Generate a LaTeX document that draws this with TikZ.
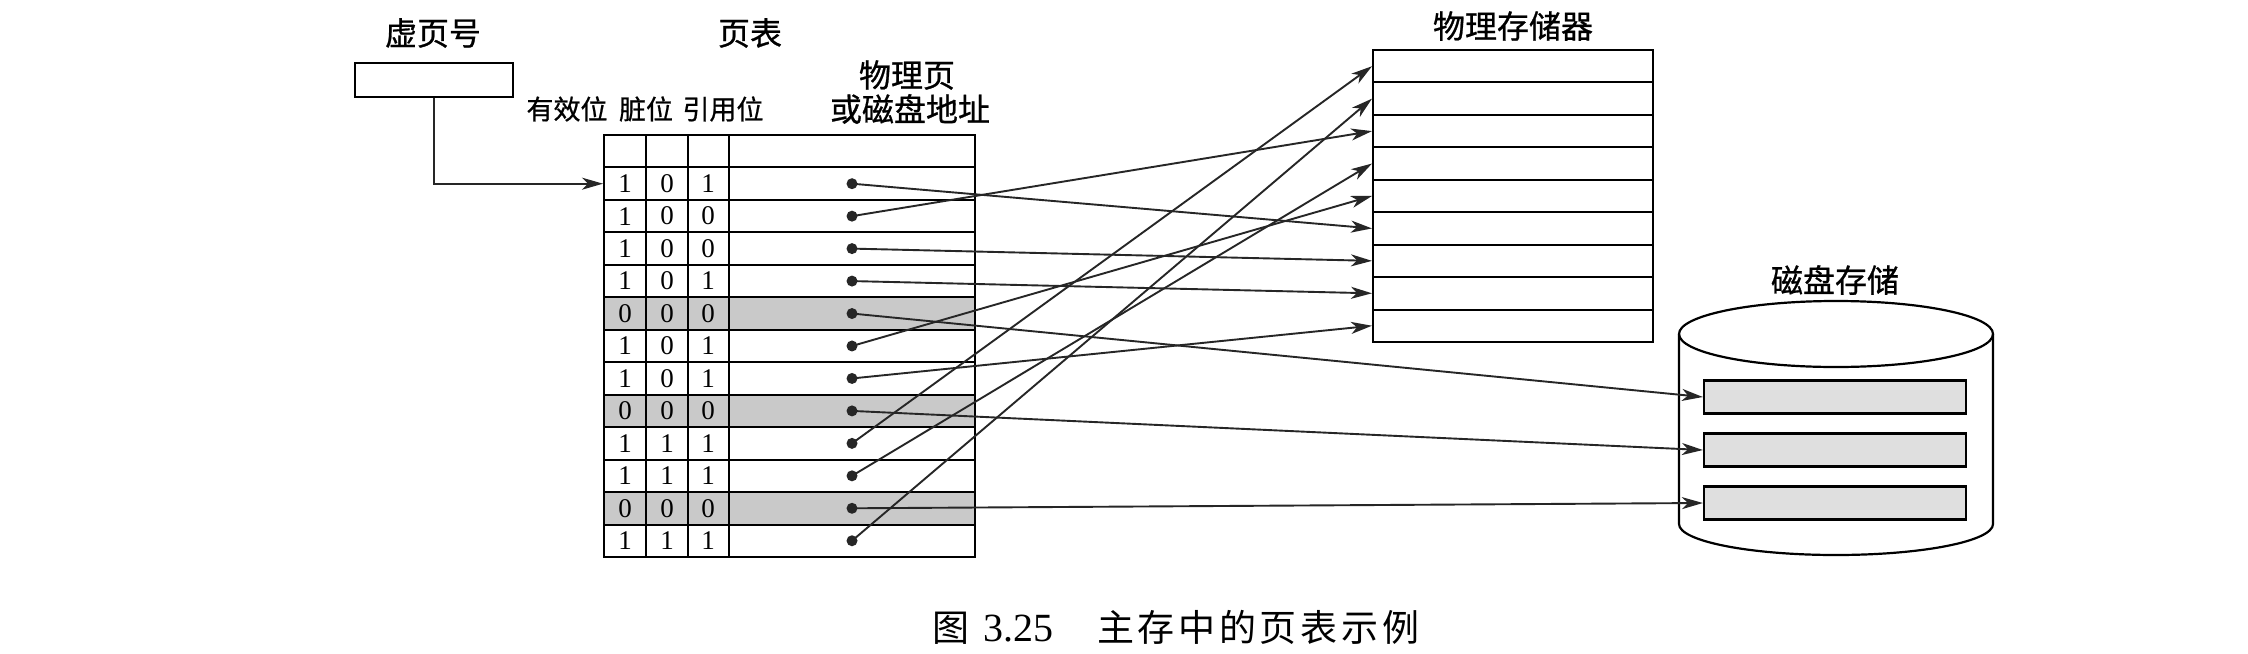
\documentclass[tikz,border=0pt]{standalone}
\usepackage{fontspec}
\setmainfont{Liberation Serif}
\newfontfamily\cjk{Noto Sans CJK SC}[FakeBold=0.8]
\newfontfamily\capcjk{Noto Sans CJK SC}[LetterSpace=10]
\usetikzlibrary{arrows.meta}
\begin{document}
\begin{tikzpicture}[x=1pt,y=-1pt,
  lbl/.style={font=\cjk\fontsize{27}{28}\selectfont, inner sep=0pt},
  biglbl/.style={font=\cjk\fontsize{32}{33}\selectfont, inner sep=0pt},
  dig/.style={font=\fontsize{27}{28}\selectfont, inner sep=0pt},
  tline/.style={line width=2pt},
  trow/.style={draw, line width=2pt, minimum width=371pt, minimum height=32.46pt, inner sep=0pt},
  srow/.style={trow, fill=gray!42},
  dotn/.style={circle, fill=black!85, inner sep=0pt, minimum size=11pt},
  conn/.style={line width=1.9pt, draw=black!85, -{Stealth[length=21pt,width=12pt,inset=6pt]}},
  memrow/.style={draw, line width=2pt, minimum width=280pt, minimum height=32.44pt, inner sep=0pt},
  diskrec/.style={draw, line width=2.2pt, fill=gray!25, minimum width=262pt, minimum height=33pt, inner sep=0pt},
]
\useasboundingbox (0,0) rectangle (2248,653);
\fill[white] (0,0) rectangle (2248,653);

% labels
\node[biglbl] (vpnlbl) at (433,33) {虚页号};
\node[biglbl] (ptlbl) at (750,33) {页表};
\node[biglbl] (pplbl) at (907,75) {物理页};
\node[lbl] (vlbl) at (567,109) {有效位};
\node[lbl] (dlbl) at (646,109) {脏位};
\node[lbl] (rlbl) at (723,109) {引用位};
\node[biglbl] (albl) at (910,109) {或磁盘地址};
\node[biglbl] (memlbl) at (1513,26) {物理存储器};
\node[biglbl] (disklbl) at (1835,280) {磁盘存储};

% virtual page number box
\node[draw, tline, minimum width=158pt, minimum height=34pt, inner sep=0pt] (vpn) at (434,80) {};

% page table
\node[trow] (row0) at (789.5,151.23) {};
\foreach \i/\st/\a/\b/\c in {1/trow/1/0/1, 2/trow/1/0/0, 3/trow/1/0/0, 4/trow/1/0/1,
    5/srow/0/0/0, 6/trow/1/0/1, 7/trow/1/0/1, 8/srow/0/0/0, 9/trow/1/1/1,
    10/trow/1/1/1, 11/srow/0/0/0, 12/trow/1/1/1} {
  \pgfmathsetmacro\yc{135+32.46*(\i+0.5)}
  \node[\st] (row\i) at (789.5,\yc) {};
  \node[dig] (va\i) at (625,\yc) {\a};
  \node[dig] (vb\i) at (667,\yc) {\b};
  \node[dig] (vc\i) at (708,\yc) {\c};
  \node[dotn] (p\i) at (852,\yc) {};
}
\draw[tline] (604,135) rectangle (975,557);
\foreach \xx in {646,688,729} \draw[tline] (\xx,135) -- (\xx,557);

% entry arrow
\draw[conn] (vpn.south) -- (vpn.south |- row1.west) -- (row1.west);

% physical memory
\foreach \i in {1,...,9} {
  \pgfmathsetmacro\yc{50+32.44*(\i-0.5)}
  \node[memrow] (m\i) at (1513,\yc) {};
}

% disk
\draw[line width=2.2pt] (1679,334) -- (1679,524) arc[start angle=180, end angle=0, x radius=157, y radius=31] -- (1993,334);
\draw[line width=2.2pt] (1836,334) ellipse[x radius=157, y radius=33];
\node[diskrec] (k1) at (1835,397) {};
\node[diskrec] (k2) at (1835,450) {};
\node[diskrec] (k3) at (1835,503) {};

% mappings
\draw[conn] (p1.center) -- (m6.west);
\draw[conn] (p2.center) -- (m3.west);
\draw[conn] (p3.center) -- (m7.west);
\draw[conn] (p4.center) -- (m8.west);
\draw[conn] (p5.center) -- (k1.west);
\draw[conn] (p6.center) -- (m5.west);
\draw[conn] (p7.center) -- (m9.west);
\draw[conn] (p8.center) -- (k2.west);
\draw[conn] (p9.center) -- (m1.west);
\draw[conn] (p10.center) -- (m4.west);
\draw[conn] (p11.center) -- (k3.west);
\draw[conn] (p12.center) -- (m2.west);

% caption
\node[font=\capcjk\fontsize{37}{39}\selectfont, inner sep=0pt, anchor=west] (cap) at (932,627) {\makebox[165pt][l]{图\hspace{14pt}{\rmfamily\fontsize{40}{42}\selectfont 3.25}}主存中的页表示例};
\end{tikzpicture}
\end{document}
